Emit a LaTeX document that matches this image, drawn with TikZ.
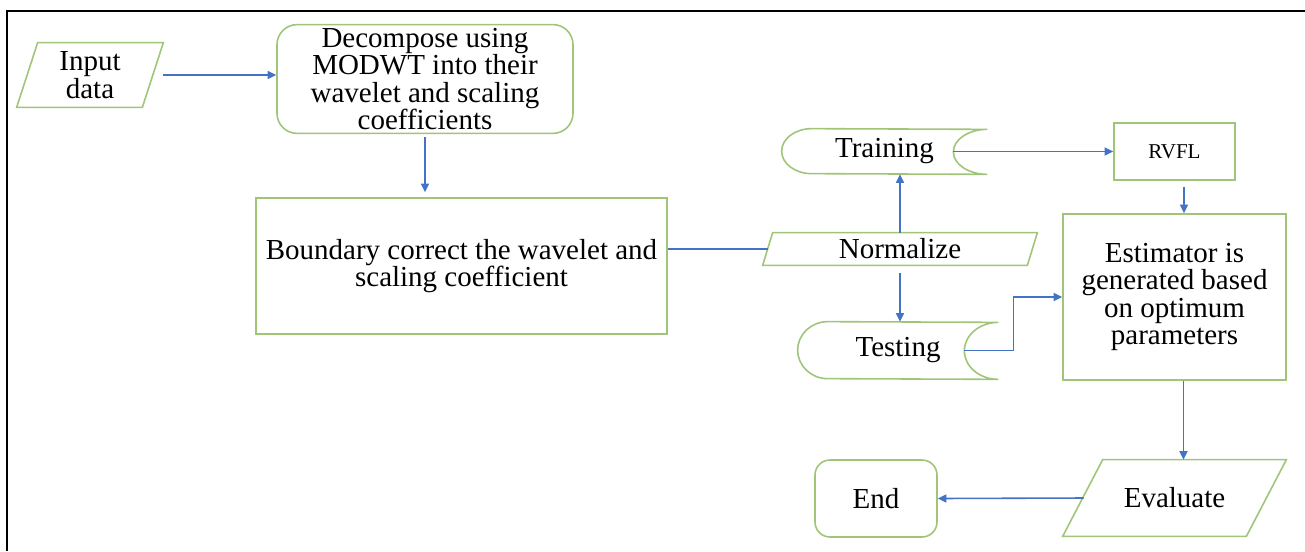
\documentclass[tikz,border=0pt]{standalone}
\usepackage{fontspec}
\setmainfont{Liberation Serif}
\usetikzlibrary{arrows.meta}

\definecolor{boxgreen}{RGB}{160,196,120}
\definecolor{flowblue}{RGB}{68,114,196}

\begin{document}
\begin{tikzpicture}
        \tikzstyle{every node}=[font=\fontsize{16.5}{15.6}\selectfont, align=center]
        \tikzstyle{box}=[draw=boxgreen, line width=0.9pt, inner sep=2pt]
        \tikzstyle{rbox}=[box, rounded corners=0.4cm]
        \tikzstyle{hollow}=[inner sep=2pt]
        \tikzstyle{flow}=[draw=flowblue, line width=0.9pt, -{Triangle[length=0.17cm,width=0.16cm]}]
        \tikzstyle{link}=[draw=flowblue, line width=0.9pt]

        \useasboundingbox (0,0) rectangle (26.1,-11.02);
        \draw[line width=1.7pt] (0.14,-11.02) -- (0.14,-0.22) -- (26.1,-0.22);

        \node[hollow, minimum width=2.92cm, minimum height=1.28cm] (input) at (1.80,-1.50) {Input\\data};
        \node[rbox, minimum width=5.92cm, minimum height=2.12cm] (decomp) at (8.50,-1.58) {Decompose using\\MODWT into their\\wavelet and scaling\\coefficients};
        \node[box, minimum width=8.22cm, minimum height=2.72cm] (bound) at (9.23,-5.32) {Boundary correct the wavelet and\\scaling coefficient};
        \node[hollow, minimum width=5.48cm, minimum height=0.64cm] (norm) at (18.00,-4.98) {Normalize};
        \node[hollow, minimum width=4.10cm, minimum height=0.90cm] (train) at (17.69,-3.03) {Training};
        \node[hollow, minimum width=4.00cm, minimum height=1.14cm] (test) at (17.96,-7.01) {Testing};
        \node[box, minimum width=2.42cm, minimum height=1.14cm, font=\fontsize{12}{14}\selectfont] (rvfl) at (23.49,-3.03) {RVFL};
        \node[box, minimum width=4.46cm, minimum height=3.32cm] (est) at (23.49,-5.94) {Estimator is\\generated based\\on optimum\\parameters};
        \node[hollow, minimum width=4.46cm, minimum height=1.52cm] (eval) at (23.49,-9.96) {Evaluate};
        \node[box, rounded corners=0.3cm, minimum width=2.44cm, minimum height=1.54cm] (endn) at (17.52,-9.97) {End};

        %slanted data outlines
        \foreach \n/\s in {input/0.42cm, norm/0.2cm, eval/0.8cm} {
            \draw[box] ([xshift=\s]\n.north west) -- (\n.north east) -- ([xshift=-\s]\n.south east) -- (\n.south west) -- cycle;
        };

        %stored data outlines
        \foreach \n/\ry in {train/0.45cm, test/0.57cm} {
            \draw[box] ([xshift=0.6cm]\n.north west) arc[start angle=90, end angle=270, x radius=0.6cm, y radius=\ry]
                -- (\n.south east) arc[start angle=-90, end angle=-270, x radius=0.68cm, y radius=\ry] -- cycle;
            \coordinate (\n-out) at ([xshift=-0.68cm]\n.east);
        };

        \draw[flow] (input.east) -- (input.east -| decomp.west);
        \draw[flow, shorten <=0.06cm, shorten >=0.1cm] (decomp.south) -- (decomp.south |- bound.north);
        \draw[link] (bound.east |- norm.west) -- ([xshift=0.1cm]norm.west);
        \draw[flow] (norm.north) -- (norm.north |- train.south);
        \draw[flow, shorten <=0.16cm] (norm.south) -- (norm.south |- test.north);
        \draw[flow] (train-out) -- (rvfl.west);
        \draw[flow] (test-out) -- ++(0.98,0) |- (est.west);
        \draw[flow, shorten <=0.12cm] ([xshift=0.19cm]rvfl.south) -- ([xshift=0.19cm]est.north);
        \draw[flow] ([xshift=0.18cm]est.south) -- ([xshift=0.18cm]est.south |- eval.north);
        \draw[flow] ([xshift=0.42cm]eval.west) -- (endn.east);
\end{tikzpicture}
\end{document}
